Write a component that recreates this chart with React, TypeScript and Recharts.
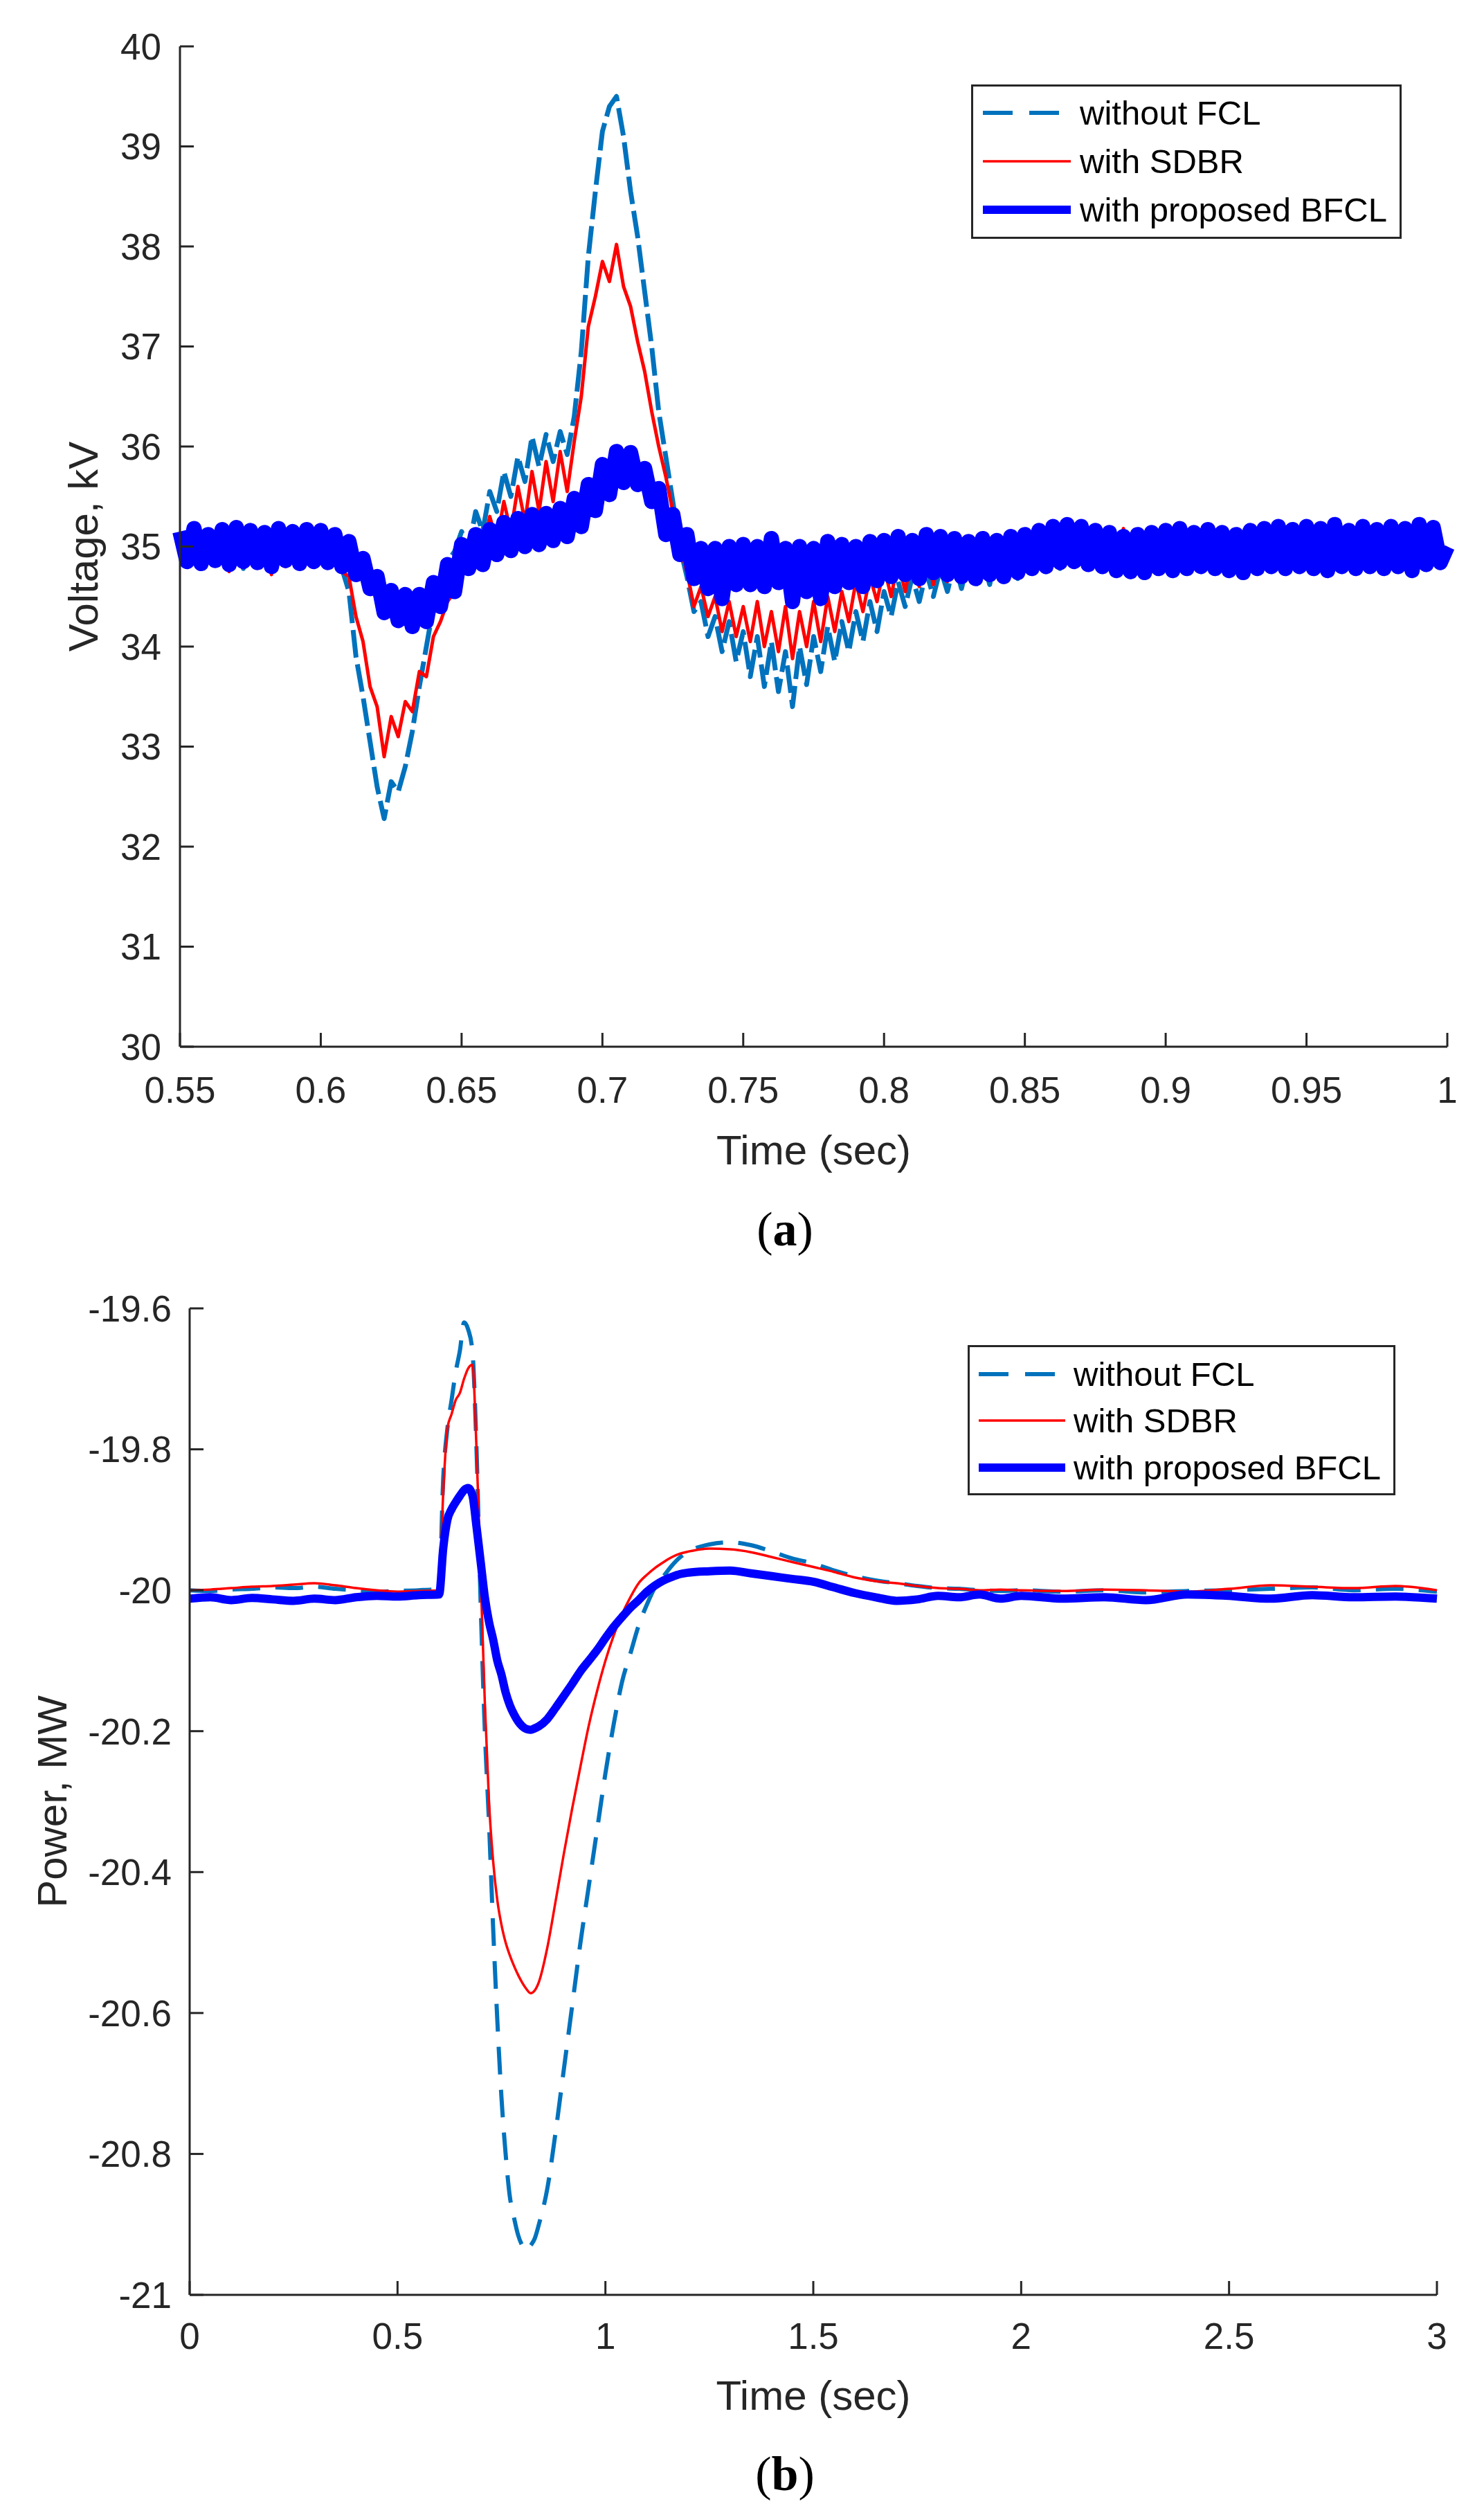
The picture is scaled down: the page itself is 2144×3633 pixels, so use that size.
import React from 'react';
import { LineChart, Line, XAxis, YAxis, Legend, Label } from 'recharts';

const FONT = '"Liberation Sans", Arial, Helvetica, sans-serif';
const SERIF = '"Liberation Serif", "Times New Roman", serif';
const AXIS = '#262626';
const C_NOFCL = '#0072BD';
const C_SDBR = '#FF0000';
const C_BFCL = '#0000FF';

// (a) bus voltage in kV, one sample every 2.5 ms starting at 0.55 s
const T_A_START = 0.55;
const T_A_STEP = 0.0025;

const voltNoFcl = [
  35.05, 34.8, 35.12, 34.78, 35.1, 34.82, 35.15, 34.8, 35.08, 34.78,
  35.12, 34.82, 35.1, 34.78, 35.14, 34.8, 35.1, 34.82, 35.12, 34.8,
  35.05, 34.82, 35.0, 34.78, 34.55, 33.9, 33.5, 33.05, 32.6, 32.28,
  32.65, 32.55, 32.8, 33.15, 33.6, 34.0, 34.4, 34.6, 34.85, 34.95,
  35.15, 34.98, 35.35, 35.15, 35.55, 35.35, 35.75, 35.5, 35.9, 35.65,
  36.1, 35.8, 36.12, 35.85, 36.15, 35.92, 36.3, 36.95, 37.9, 38.55,
  39.15, 39.4, 39.5, 39.1, 38.55, 38.1, 37.55, 37.0, 36.35, 35.9,
  35.45, 35.0, 34.7, 34.35, 34.45, 34.1, 34.3, 33.95, 34.25, 33.85,
  34.15, 33.7, 34.1, 33.6, 34.05, 33.55, 33.95, 33.4, 34.0, 33.62,
  34.1, 33.75, 34.2, 33.85, 34.25, 33.95, 34.35, 34.05, 34.45, 34.15,
  34.55, 34.3, 34.65, 34.4, 34.7, 34.45, 34.75, 34.5, 34.78, 34.55,
  34.85, 34.58, 34.88, 34.6, 34.9, 34.62, 34.92, 34.65, 34.95, 34.68,
  35.0, 34.72, 35.05, 34.75, 35.1, 34.78, 35.12, 34.8, 35.15, 34.78,
  35.12, 34.76, 35.1, 34.72, 35.08, 34.7, 35.05, 34.72, 35.08, 34.75,
  35.1, 34.76, 35.12, 34.78, 35.1, 34.8, 35.12, 34.78, 35.14, 34.8,
  35.12, 34.8, 35.15, 34.82, 35.12, 34.8, 35.16, 34.82, 35.14, 34.84,
  35.16, 34.85, 35.18, 34.82, 35.2, 34.85, 35.16, 34.84, 35.18, 34.86,
  35.15, 34.85, 35.2, 34.86, 35.18, 34.84, 35.16, 34.86, 35.18, 34.88,
  35.0,
];

const voltSdbr = [
  35.1, 34.82, 35.05, 34.78, 35.15, 34.85, 35.08, 34.75, 35.12, 34.8,
  35.2, 34.85, 35.1, 34.72, 35.15, 34.8, 35.12, 34.78, 35.08, 34.82,
  35.05, 34.8, 35.0, 34.75, 34.7, 34.3, 34.05, 33.6, 33.4, 32.9,
  33.3, 33.1, 33.45, 33.35, 33.75, 33.7, 34.1, 34.25, 34.45, 34.55,
  34.85, 34.75, 35.15, 34.95, 35.3, 35.05, 35.45, 35.15, 35.6, 35.25,
  35.75, 35.35, 35.85, 35.45, 35.95, 35.55, 36.05, 36.5, 37.2, 37.5,
  37.85, 37.65, 38.02, 37.6, 37.4, 37.05, 36.75, 36.35, 36.0, 35.7,
  35.35, 35.0, 34.75, 34.4, 34.6, 34.3, 34.5, 34.15, 34.45, 34.1,
  34.4, 34.05, 34.45, 34.0, 34.35, 33.95, 34.4, 33.88, 34.35, 34.0,
  34.45, 34.05, 34.5, 34.15, 34.55, 34.25, 34.65, 34.35, 34.7, 34.45,
  34.8, 34.5, 34.85, 34.55, 34.9, 34.6, 34.95, 34.62, 34.92, 34.65,
  34.98, 34.68, 35.0, 34.7, 34.95, 34.72, 35.02, 34.7, 35.05, 34.75,
  35.08, 34.78, 35.12, 34.8, 35.2, 34.82, 35.18, 34.8, 35.22, 34.85,
  35.2, 34.8, 35.15, 34.75, 35.18, 34.72, 35.12, 34.7, 35.1, 34.75,
  35.15, 34.72, 35.18, 34.75, 35.12, 34.78, 35.15, 34.75, 35.18, 34.78,
  35.15, 34.75, 35.2, 34.8, 35.15, 34.78, 35.22, 34.8, 35.18, 34.82,
  35.2, 34.82, 35.18, 34.8, 35.22, 34.85, 35.18, 34.82, 35.2, 34.85,
  35.18, 34.82, 35.25, 34.85, 35.2, 34.8, 35.15, 34.82, 35.2, 34.85,
  35.0,
];

const voltBfcl = [
  35.15, 34.85, 35.18, 34.83, 35.12, 34.86, 35.17, 34.82, 35.19, 34.85,
  35.16, 34.84, 35.14, 34.8, 35.18, 34.86, 35.15, 34.83, 35.17, 34.85,
  35.16, 34.84, 35.12, 34.8, 35.05, 34.72, 34.88, 34.58, 34.7, 34.34,
  34.56, 34.26, 34.52, 34.2, 34.52, 34.25, 34.64, 34.4, 34.82, 34.55,
  35.02, 34.78, 35.12, 34.82, 35.17, 34.92, 35.24, 34.96, 35.28, 35.0,
  35.32, 35.02, 35.33, 35.06, 35.38, 35.1, 35.48, 35.2, 35.62, 35.36,
  35.82, 35.52, 35.95, 35.64, 35.94, 35.62, 35.78, 35.45, 35.58, 35.12,
  35.32, 34.92, 35.12, 34.68, 34.98, 34.58, 34.98, 34.48, 35.0, 34.62,
  35.02, 34.62, 35.0, 34.6, 35.08, 34.64, 34.98, 34.45, 35.0, 34.55,
  34.98, 34.48, 35.05, 34.6, 35.02, 34.64, 35.0, 34.6, 35.05, 34.66,
  35.06, 34.7, 35.1, 34.72, 35.06, 34.68, 35.12, 34.74, 35.1, 34.72,
  35.08, 34.7, 35.05, 34.68, 35.08, 34.72, 35.06, 34.7, 35.1, 34.74,
  35.12, 34.78, 35.16, 34.8, 35.2, 34.84, 35.22, 34.85, 35.2, 34.82,
  35.16, 34.8, 35.14, 34.76, 35.1, 34.75, 35.12, 34.74, 35.14, 34.78,
  35.16, 34.76, 35.18, 34.78, 35.14, 34.8, 35.17, 34.78, 35.14, 34.76,
  35.12, 34.74, 35.16, 34.78, 35.18, 34.8, 35.2, 34.78, 35.17, 34.8,
  35.2, 34.78, 35.18, 34.76, 35.22, 34.8, 35.16, 34.78, 35.2, 34.8,
  35.17, 34.78, 35.2, 34.8, 35.18, 34.76, 35.22, 34.82, 35.19, 34.84,
  35.0,
];

const tA = voltBfcl.map((_, i) => +(T_A_START + i * T_A_STEP).toFixed(4));

// (b) active power in MW
const tB = [
  0, 0.05, 0.1, 0.15, 0.2, 0.25, 0.3, 0.35, 0.4, 0.45, 0.5, 0.55, 0.6,
  0.61, 0.62, 0.63, 0.64, 0.65, 0.66, 0.67, 0.68, 0.69, 0.7, 0.71, 0.72,
  0.73, 0.74, 0.75, 0.76, 0.77, 0.78, 0.79, 0.8, 0.81, 0.82, 0.83, 0.84,
  0.86, 0.88, 0.9, 0.92, 0.94, 0.96, 0.98, 1.0, 1.02, 1.04, 1.06, 1.08,
  1.1, 1.12, 1.14, 1.16, 1.18, 1.2,
  1.25, 1.3, 1.35, 1.4, 1.45, 1.5, 1.55, 1.6, 1.65, 1.7, 1.75, 1.8, 1.85,
  1.9, 1.95, 2.0,
  2.1, 2.2, 2.3, 2.4, 2.5, 2.6, 2.7, 2.8, 2.9, 3.0,
];

const powNoFcl = [
  -20.0, -20.001, -19.999, -19.998, -19.996, -19.997, -19.995, -19.998, -20.0, -20.002, -20.001, -20.0, -19.998,
  -19.84, -19.77, -19.73, -19.69, -19.66, -19.62, -19.63, -19.66, -19.8, -20.02, -20.2, -20.33,
  -20.48, -20.61, -20.72, -20.8, -20.86, -20.89, -20.915, -20.93, -20.937, -20.93, -20.92, -20.9,
  -20.85, -20.77, -20.68, -20.59, -20.5, -20.42, -20.34, -20.26, -20.19, -20.13, -20.09, -20.05,
  -20.02, -19.995, -19.98, -19.965, -19.953, -19.945,
  -19.935, -19.932, -19.936, -19.945, -19.955, -19.962, -19.972, -19.98, -19.986, -19.99, -19.994, -19.997, -19.998,
  -20.0, -20.001, -20.0,
  -20.002, -20.0, -20.003, -20.001, -20.0, -19.998, -19.996, -20.0, -19.998, -20.002,
];

const powSdbr = [
  -20.0, -19.999, -19.997, -19.995, -19.994, -19.992, -19.99, -19.993, -19.997, -20.0, -20.002, -20.001, -20.0,
  -19.86, -19.77, -19.75, -19.73, -19.72, -19.7, -19.685, -19.68, -19.8, -19.98, -20.16, -20.3,
  -20.385, -20.44, -20.475, -20.5, -20.518, -20.533, -20.546, -20.557, -20.566, -20.572, -20.568, -20.556,
  -20.508, -20.442, -20.374, -20.31, -20.25, -20.192, -20.143, -20.1, -20.064, -20.034, -20.01, -19.99,
  -19.978, -19.968, -19.96, -19.953, -19.948, -19.945,
  -19.941, -19.942, -19.946, -19.953, -19.96, -19.967, -19.974, -19.982, -19.987, -19.99, -19.994, -19.997, -19.998,
  -20.0, -19.999, -20.0,
  -20.001, -19.999, -20.0, -20.002, -19.998, -19.993, -19.995, -19.997, -19.994, -20.0,
];

const powBfcl = [
  -20.012, -20.01, -20.014, -20.011, -20.013, -20.015, -20.012, -20.014, -20.01, -20.008, -20.009, -20.007, -20.006,
  -19.94, -19.9, -19.885, -19.875, -19.866, -19.858, -19.855, -19.865, -19.91, -19.96, -20.01, -20.045,
  -20.07, -20.1, -20.12, -20.145, -20.163, -20.176, -20.186, -20.193, -20.197, -20.198, -20.196, -20.193,
  -20.183, -20.167, -20.15, -20.133, -20.115, -20.1, -20.085, -20.068, -20.052, -20.038, -20.025, -20.014,
  -20.002, -19.993, -19.986, -19.981, -19.977, -19.975,
  -19.973, -19.972, -19.976, -19.98, -19.984, -19.988, -19.996, -20.004, -20.01, -20.015, -20.013, -20.008, -20.01,
  -20.006, -20.012, -20.008,
  -20.012, -20.01, -20.014, -20.006, -20.008, -20.012, -20.007, -20.01, -20.009, -20.012,
];

const ticksAX = [0.55, 0.6, 0.65, 0.7, 0.75, 0.8, 0.85, 0.9, 0.95, 1];
const ticksAY = [30, 31, 32, 33, 34, 35, 36, 37, 38, 39, 40];
const ticksBX = [0, 0.5, 1, 1.5, 2, 2.5, 3];
const ticksBY = [-21, -20.8, -20.6, -20.4, -20.2, -20, -19.8, -19.6];

const legendItems = [
  { name: 'without FCL', color: C_NOFCL, width: 6, dash: '43 24' },
  { name: 'with SDBR', color: C_SDBR, width: 3.5, dash: undefined },
  { name: 'with proposed BFCL', color: C_BFCL, width: 12, dash: undefined },
];

const rowsA = tA.map((t, i) => ({ t, noFcl: voltNoFcl[i], sdbr: voltSdbr[i], bfcl: voltBfcl[i] }));
const rowsB = tB.map((t, i) => ({ t, noFcl: powNoFcl[i], sdbr: powSdbr[i], bfcl: powBfcl[i] }));

const fmt = (v: number) => String(Number(Number(v).toFixed(2)));
const blank = () => '';

const tickStyle = { fontSize: 53, fill: AXIS, fontFamily: FONT };
const lineStyle = { stroke: AXIS, strokeWidth: 3 };

function LegendBox({ w, h, rows, x0, x1, tx }: { w: number; h: number; rows: number[]; x0: number; x1: number; tx: number }) {
  return (
    <svg width={w} height={h} style={{ display: 'block' }}>
      <rect x={1.5} y={1.5} width={w - 3} height={h - 3} fill="#fff" stroke={AXIS} strokeWidth={3} />
      {legendItems.map((it, i) => (
        <g key={it.name}>
          <line x1={x0} x2={x1} y1={rows[i]} y2={rows[i]} stroke={it.color} strokeWidth={it.width} strokeDasharray={it.dash} />
          <text x={tx} y={rows[i]} dominantBaseline="central" fontFamily={FONT} fontSize={49} fill="#000">
            {it.name}
          </text>
        </g>
      ))}
    </svg>
  );
}

function YTitle(props: any) {
  const vb = props.viewBox || {};
  const cy = (vb.y ?? 0) + (vb.height ?? 0) / 2;
  const x = props.cx;
  return (
    <text x={x} y={cy} transform={`rotate(-90 ${x} ${cy})`} textAnchor="middle" dominantBaseline="central" fontFamily={FONT} fontSize={60} fill={AXIS}>
      {props.text}
    </text>
  );
}

function XTitle(props: any) {
  const vb = props.viewBox || {};
  const cx = (vb.x ?? 0) + (vb.width ?? 0) / 2;
  const y = (vb.y ?? 0) + props.dy;
  return (
    <text x={cx} y={y} textAnchor="middle" dominantBaseline="central" fontFamily={FONT} fontSize={60} fill={AXIS}>
      {props.text}
    </text>
  );
}

function Caption({ top, letter }: { top: number; letter: string }) {
  return (
    <div
      style={{
        position: 'absolute',
        top: top - 40,
        left: 1134,
        transform: 'translateX(-50%)',
        fontFamily: SERIF,
        fontSize: 70,
        lineHeight: '80px',
        color: '#000',
        whiteSpace: 'nowrap',
      }}
    >
      (<b>{letter}</b>)
    </div>
  );
}

export default function App() {
  return (
    <div style={{ position: 'absolute', left: 0, top: 0, width: 2144, height: 3633, background: '#fff' }}>
      <div style={{ position: 'absolute', left: 0, top: 0 }}>
        <LineChart width={2144} height={1800} data={rowsA} margin={{ top: 67, right: 53, left: 0, bottom: 88 }}>
          <XAxis
            dataKey="t"
            type="number"
            domain={[0.55, 1]}
            ticks={ticksAX}
            interval={0}
            tickFormatter={fmt}
            height={200}
            tick={tickStyle}
            tickSize={-20}
            tickMargin={63}
            axisLine={lineStyle}
            tickLine={lineStyle}
          >
            <Label content={(p: any) => <XTitle {...p} text="Time (sec)" dy={149} />} />
          </XAxis>
          <XAxis
            xAxisId="top"
            orientation="top"
            type="number"
            domain={[0.55, 1]}
            ticks={ticksAX}
            interval={0}
            tickFormatter={blank}
            height={0}
            tickSize={-20}
            axisLine={lineStyle}
            tickLine={lineStyle}
          />
          <YAxis
            type="number"
            domain={[30, 40]}
            ticks={ticksAY}
            interval={0}
            tickFormatter={fmt}
            width={260}
            tick={tickStyle}
            tickSize={-20}
            tickMargin={47}
            axisLine={lineStyle}
            tickLine={lineStyle}
          >
            <Label content={(p: any) => <YTitle {...p} text="Voltage, kV" cx={120} />} />
          </YAxis>
          <YAxis
            yAxisId="right"
            orientation="right"
            type="number"
            domain={[30, 40]}
            ticks={ticksAY}
            interval={0}
            tickFormatter={blank}
            width={0}
            tickSize={-20}
            axisLine={lineStyle}
            tickLine={lineStyle}
          />
          <Line type="linear" dataKey="noFcl" name="without FCL" stroke={C_NOFCL} strokeWidth={7} strokeDasharray="40 10" strokeLinejoin="round" dot={false} isAnimationActive={false} />
          <Line type="linear" dataKey="sdbr" name="with SDBR" stroke={C_SDBR} strokeWidth={5} strokeLinejoin="round" dot={false} isAnimationActive={false} />
          <Line type="linear" dataKey="bfcl" name="with proposed BFCL" stroke={C_BFCL} strokeWidth={22} strokeLinejoin="round" dot={false} isAnimationActive={false} />
          <Legend
            layout="vertical"
            align="center"
            verticalAlign="middle"
            wrapperStyle={{ left: 1403, top: 122, width: 622, height: 223 }}
            content={() => <LegendBox w={622} h={223} rows={[41, 111, 181]} x0={17} x1={144} tx={157} />}
          />
        </LineChart>
      </div>
      <Caption top={1776} letter="a" />

      <div style={{ position: 'absolute', left: 0, top: 1800 }}>
        <LineChart width={2144} height={1833} data={rowsB} margin={{ top: 90, right: 68, left: 0, bottom: 118 }}>
          <XAxis
            dataKey="t"
            type="number"
            domain={[0, 3]}
            ticks={ticksBX}
            interval={0}
            tickFormatter={fmt}
            height={200}
            tick={tickStyle}
            tickSize={-20}
            tickMargin={60}
            axisLine={lineStyle}
            tickLine={lineStyle}
          >
            <Label content={(p: any) => <XTitle {...p} text="Time (sec)" dy={145} />} />
          </XAxis>
          <XAxis
            xAxisId="top"
            orientation="top"
            type="number"
            domain={[0, 3]}
            ticks={ticksBX}
            interval={0}
            tickFormatter={blank}
            height={0}
            tickSize={-20}
            axisLine={lineStyle}
            tickLine={lineStyle}
          />
          <YAxis
            type="number"
            domain={[-21, -19.6]}
            ticks={ticksBY}
            interval={0}
            tickFormatter={fmt}
            width={274}
            tick={tickStyle}
            tickSize={-20}
            tickMargin={46}
            axisLine={lineStyle}
            tickLine={lineStyle}
          >
            <Label content={(p: any) => <YTitle {...p} text="Power, MW" cx={75} />} />
          </YAxis>
          <YAxis
            yAxisId="right"
            orientation="right"
            type="number"
            domain={[-21, -19.6]}
            ticks={ticksBY}
            interval={0}
            tickFormatter={blank}
            width={0}
            tickSize={-20}
            axisLine={lineStyle}
            tickLine={lineStyle}
          />
          <Line type="monotone" dataKey="noFcl" name="without FCL" stroke={C_NOFCL} strokeWidth={6} strokeDasharray="40 22" dot={false} isAnimationActive={false} />
          <Line type="monotone" dataKey="sdbr" name="with SDBR" stroke={C_SDBR} strokeWidth={3.5} dot={false} isAnimationActive={false} />
          <Line type="monotone" dataKey="bfcl" name="with proposed BFCL" stroke={C_BFCL} strokeWidth={12} strokeLinejoin="round" dot={false} isAnimationActive={false} />
          <Legend
            layout="vertical"
            align="center"
            verticalAlign="middle"
            wrapperStyle={{ left: 1398, top: 143, width: 618, height: 217 }}
            content={() => <LegendBox w={618} h={217} rows={[42, 109, 177]} x0={16} x1={141} tx={153} />}
          />
        </LineChart>
      </div>
      <Caption top={3574} letter="b" />
    </div>
  );
}
